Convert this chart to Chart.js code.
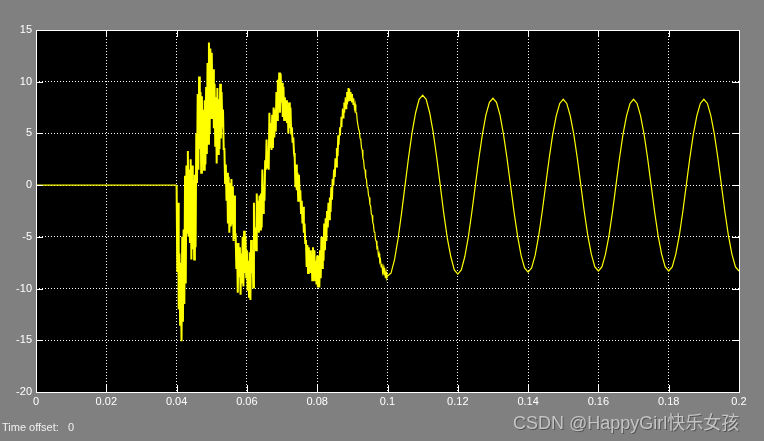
<!DOCTYPE html>
<html>
<head>
<meta charset="utf-8">
<script src="https://cdn.jsdelivr.net/npm/chart.js@4/dist/chart.umd.min.js"></script>
<style>
  body { margin: 0; background: #808080; }
  #wrap { position: relative; width: 764px; height: 441px; }
  #offset { position: absolute; left: 2px; top: 421px; font: 11px "Liberation Sans", Arial, sans-serif; color: #f0f0f0; white-space: pre; }
  #mark { position: absolute; left: 513px; top: 408px; font: 18px "Liberation Sans", "Noto Sans CJK SC", sans-serif; color: #c4c4c4; text-shadow: 1px 1px 0 #555; white-space: nowrap; }
</style>
</head>
<body>
<div id="wrap">
  <canvas id="scope" width="764" height="441"></canvas>
  <div id="offset">Time offset:   0</div>
  <div id="mark">CSDN @HappyGirl快乐女孩</div>
</div>
<script>
// flat part before the fault
const flatTimes = [0, 0.04];
const flatValues = [0, 0];

// noisy transient 0.04 .. 0.1, one value every 0.0002 s (upper / lower of the band)
const noisyStart = 0.04;
const noisyStep = 0.0002;
const noisyValues = [
  0, -8.4, -1.7, -12.0, -6.6, -13.5, -7.5, -15.1, -5.0, -13.2, -4.3, -11.5,
  0.9, -9.5, 1.9, -4.6, 3.3, -5.0, 1.5, -5.6, 2.5, -7.2, 1.9, -6.2,
  0.5, -7.2, 1.0, -6.0, 5.0, 0.2, 8.8, 1.5, 10.5, 3.5, 9.0, 1.2,
  8.6, 2.2, 7.3, 1.5, 8.2, 2.0, 9.5, 3.0, 11.8, 4.0, 13.8, 5.0,
  13.2, 6.5, 12.8, 7.6, 11.2, 5.5, 9.8, 3.8, 8.5, 2.1, 9.4, 3.0,
  8.3, 3.5, 9.8, 4.5, 9.0, 5.7, 7.3, 3.5, 3.5, 0.2, 2.0, -1.5,
  1.2, -3.7, 0.8, -4.6, 0.2, -4.0, 0.6, -3.7, -0.1, -5.4, -1.0, -5.0,
  -4.9, -8.1, -5.6, -10.4, -5.6, -8.8, -6.0, -10.6, -6.6, -9.5, -5.0, -9.8,
  -4.4, -8.5, -5.0, -8.9, -6.3, -10.2, -7.3, -10.8, -6.5, -11.1, -5.3, -8.5,
  -6.3, -9.9, -1.7, -6.0, -4.1, -6.3, -0.8, -4.1, -1.5, -4.6, -1.0, -4.3,
  -0.8, -4.1, 1.5, -2.7, -0.2, -1.5, 2.4, 1.5, 4.4, 1.7, 3.0, 1.5,
  7.0, 3.7, 6.0, 3.4, 6.8, 3.6, 7.5, 4.6, 7.3, 5.2, 9.0, 6.3,
  10.2, 7.5, 10.9, 7.0, 10.8, 8.0, 9.9, 6.6, 9.5, 6.3, 8.5, 6.6,
  8.2, 6.0, 7.5, 5.0, 8.0, 5.5, 7.5, 5.0, 5.6, 4.1, 4.6, 3.1,
  2.7, -0.2, 2.0, -0.5, 1.2, -1.5, 1.0, -1.0, -0.5, -2.7, -1.5, -3.7,
  -2.1, -4.6, -3.7, -5.6, -5.3, -7.9, -5.8, -8.5, -6.0, -8.3, -6.3, -8.5,
  -6.6, -9.2, -6.0, -8.8, -6.3, -9.2, -7.3, -9.6, -6.8, -9.9, -7.5, -9.9,
  -6.3, -9.0, -5.0, -8.0, -5.0, -7.3, -3.7, -6.3, -3.2, -5.4, -2.5, -4.1,
  -1.7, -3.3, -1.2, -2.6, -0.2, -1.4, 0.6, 0.0, 1.5, 0.8, 2.6, 1.8,
  3.6, 2.8, 4.8, 3.9, 5.6, 4.8, 6.6, 5.6, 7.4, 6.5, 8.0, 7.0,
  8.5, 7.4, 9.0, 7.8, 9.4, 8.1, 9.3, 8.2, 9.0, 8.0, 8.8, 7.8,
  8.4, 7.4, 7.8, 7.0, 7.0, 6.2, 6.2, 5.4, 5.2, 4.5, 4.4, 3.6,
  3.4, 2.6, 2.4, 1.6, 1.5, 0.7, 0.6, -0.2, -0.3, -1.0, -1.2, -1.9,
  -2.0, -2.8, -2.9, -3.6, -3.8, -4.5, -4.6, -5.3, -5.4, -6.1, -6.0, -6.8,
  -6.6, -7.4, -7.2, -7.9, -7.6, -8.4, -8.0, -8.7, -8.2, -9.0, -8.4, -9.0
];

// settled sine 0.1 .. 0.2, one value every 0.001 s
const cleanStart = 0.1;
const cleanStep = 0.001;
const cleanValues = [
  -8.8, -8.5, -7.2, -5.2, -2.7, 0.0, 2.7, 5.1, 7.0, 8.3, 8.7, 8.3, 7.0, 5.1, 2.7, 0.0, -2.7, -5.1, -6.9, -8.2,
  -8.6, -8.2, -6.9, -5.0, -2.6, 0.0, 2.6, 4.9, 6.8, 8.0, 8.4, 8.0, 6.8, 4.9, 2.6, 0.0, -2.6, -4.9, -6.8, -8.0,
  -8.4, -8.0, -6.8, -4.9, -2.6, 0.0, 2.6, 4.9, 6.7, 7.9, 8.3, 7.9, 6.7, 4.9, 2.6, 0.0, -2.6, -4.9, -6.7, -7.9,
  -8.3, -7.9, -6.7, -4.9, -2.6, 0.0, 2.6, 4.9, 6.7, 7.9, 8.3, 7.9, 6.7, 4.9, 2.6, 0.0, -2.6, -4.9, -6.7, -7.9,
  -8.3, -7.9, -6.7, -4.9, -2.6, 0.0, 2.6, 4.9, 6.7, 7.9, 8.3, 7.9, 6.7, 4.9, 2.6, 0.0, -2.6, -4.9, -6.7, -7.9,
  -8.3
];

const xMin = 0, xMax = 0.2, xStep = 0.02;
const yMin = -20, yMax = 15, yStep = 5;

let points = [];
flatTimes.forEach((t, i) => points.push({x: t, y: flatValues[i]}));
noisyValues.forEach((v, i) => points.push({x: noisyStart + i * noisyStep, y: v}));
cleanValues.forEach((v, i) => points.push({x: cleanStart + i * cleanStep, y: v}));

// black plot box, white frame and inner tick marks like the scope window
const scopeFrame = {
  id: 'scopeFrame',
  beforeDraw(chart) {
    const ctx = chart.ctx, a = chart.chartArea;
    ctx.save();
    ctx.fillStyle = '#808080';
    ctx.fillRect(0, 0, chart.width, chart.height);
    ctx.fillStyle = '#000';
    ctx.fillRect(a.left, a.top, a.right - a.left, a.bottom - a.top);
    ctx.restore();
  },
  afterDraw(chart) {
    const ctx = chart.ctx, a = chart.chartArea;
    const xs = chart.scales.x, ys = chart.scales.y;
    ctx.save();
    ctx.strokeStyle = '#fff';
    ctx.lineWidth = 1;
    ctx.strokeRect(a.left + 0.5, a.top + 0.5, a.right - a.left, a.bottom - a.top);
    ctx.beginPath();
    xs.ticks.forEach(t => {
      const px = Math.round(xs.getPixelForValue(t.value)) + 0.5;
      ctx.moveTo(px, a.top); ctx.lineTo(px, a.top + 7);
      ctx.moveTo(px, a.bottom); ctx.lineTo(px, a.bottom - 7);
    });
    ys.ticks.forEach(t => {
      const py = Math.round(ys.getPixelForValue(t.value)) + 0.5;
      ctx.moveTo(a.left, py); ctx.lineTo(a.left + 7, py);
      ctx.moveTo(a.right, py); ctx.lineTo(a.right - 7, py);
    });
    ctx.stroke();
    ctx.restore();
  }
};

const tickFont = {family: '"Liberation Sans", Arial, sans-serif', size: 11};

new Chart(document.getElementById('scope'), {
  type: 'line',
  data: {
    datasets: [{
      data: points,
      borderColor: '#ffff00',
      borderWidth: 1.2,
      pointRadius: 0,
      tension: 0,
      fill: false,
      segment: {
        // the transient band is drawn thicker so it reads as a solid band
        borderWidth: c => (c.p0.parsed.x >= 0.04 && c.p0.parsed.x < 0.086) ? 2 : 1.2
      }
    }]
  },
  options: {
    responsive: false,
    animation: false,
    layout: {padding: {top: 30, right: 25, left: 0, bottom: 0}},
    plugins: {legend: {display: false}, tooltip: {enabled: false}},
    scales: {
      x: {
        type: 'linear',
        min: xMin, max: xMax,
        ticks: {stepSize: xStep, color: '#fff', font: tickFont, padding: 3, maxRotation: 0,
          callback: v => String(+v.toFixed(2))},
        grid: {color: '#fff', lineWidth: 1, drawTicks: false, tickLength: 0},
        border: {display: false, dash: [1, 2]},
        afterFit: s => { s.height = 49; }
      },
      y: {
        min: yMin, max: yMax,
        ticks: {stepSize: yStep, color: '#fff', font: tickFont, padding: 4},
        grid: {color: '#fff', lineWidth: 1, drawTicks: false, tickLength: 0},
        border: {display: false, dash: [1, 2]},
        afterFit: s => { s.width = 36; }
      }
    }
  },
  plugins: [scopeFrame]
});
</script>
</body>
</html>
